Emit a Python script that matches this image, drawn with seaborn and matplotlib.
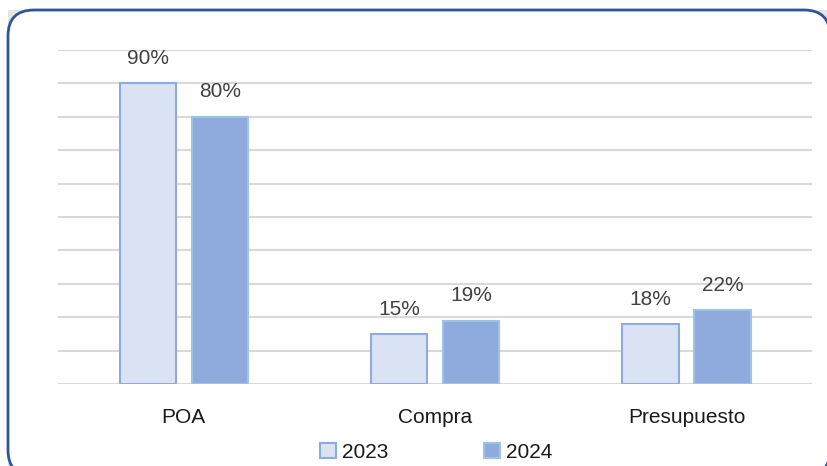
import pandas as pd
import seaborn as sns
import matplotlib.pyplot as plt
from matplotlib.patches import FancyBboxPatch, Rectangle
from matplotlib.transforms import IdentityTransform

# data
categories = ['POA', 'Compra', 'Presupuesto']
years = ['2023', '2024']
values_2023 = [90, 15, 18]
values_2024 = [80, 19, 22]

df = pd.DataFrame({
    'Categoria': categories * 2,
    'Año': [years[0]] * 3 + [years[1]] * 3,
    'Valor': values_2023 + values_2024,
})

fills = {'2023': '#DAE3F3', '2024': '#8FAADC'}
edges = ['#8FAADC', '#9DC3E6']

sns.set_style('white')
plt.rcParams['font.family'] = ['Liberation Sans', 'DejaVu Sans']

fig = plt.figure(figsize=(8.28, 4.66), dpi=100)

# rounded chart frame (pixel coordinates)
bg = Rectangle((8, -10), 830, 466, transform=IdentityTransform(),
               facecolor='#E4E4E4', edgecolor='none', zorder=-3)
frame = FancyBboxPatch((8, -10), 822, 466, boxstyle='round,pad=0,rounding_size=26',
                       transform=IdentityTransform(), facecolor='white',
                       edgecolor='#2F5597', linewidth=2, zorder=-2)
fig.add_artist(bg)
fig.add_artist(frame)

ax = fig.add_axes([0.070, 0.176, 0.911, 0.717])
ax.patch.set_alpha(0)

sns.barplot(data=df, x='Categoria', y='Valor', hue='Año', palette=fills,
            saturation=1, width=0.573, gap=0.22, ax=ax, legend=True, zorder=3)

for cont, ec in zip(ax.containers, edges):
    for bar in cont:
        bar.set_edgecolor(ec)
        bar.set_linewidth(1.5)
    ax.bar_label(cont, fmt='%g%%', padding=11, fontsize=15, color='#404040')

ax.set_ylim(0, 100)
ax.set_xlim(-0.5, 2.5)
ax.set_yticks(range(0, 101, 10))
ax.set_yticklabels([])
ax.yaxis.grid(True, color='#D9D9D9', linewidth=1.5, zorder=0)
ax.set_axisbelow(True)
for s in ax.spines.values():
    s.set_visible(False)
ax.set_xlabel('')
ax.set_ylabel('')
ax.tick_params(axis='x', length=0, pad=17, labelsize=15, labelcolor='#1a1a1a')
ax.tick_params(axis='y', length=0)

handles, labels = ax.get_legend_handles_labels()
ax.get_legend().remove()
for h, ec in zip(handles, edges):
    h.set_edgecolor(ec)
    h.set_linewidth(1.5)
leg = fig.legend(handles, labels, loc='center', bbox_to_anchor=(0.527, 0.03), ncol=2,
                 frameon=False, fontsize=15, handlelength=0.75, handleheight=0.75,
                 handletextpad=0.3, columnspacing=4.6)
for t in leg.get_texts():
    t.set_color('#1a1a1a')

fig.savefig('out.png', dpi=100)
